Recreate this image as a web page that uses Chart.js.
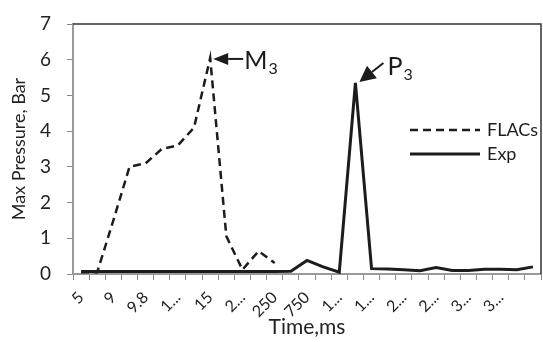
<!DOCTYPE html>
<html>
<head>
<meta charset="utf-8">
<script src="https://cdn.jsdelivr.net/npm/chart.js@4.4.0/dist/chart.umd.min.js"></script>
<style>
  html, body { margin:0; padding:0; background:#fff; }
  #wrap { width:543px; height:342px; }
</style>
</head>
<body>
<div id="wrap"><canvas id="chart"></canvas></div>
<script>
// time categories (only every second one is labelled on the axis)
const timeLabels = ['5','','9','','9.8','','1...','','15','','2...','','250','','750','',
                    '1...','','1...','','2...','','2...','','3...','','3...','',''];
const flacsValues = [0.05,0.05,1.5,3.0,3.1,3.5,3.6,4.1,6.05,1.06,0.12,0.64,0.31,
                     null,null,null,null,null,null,null,null,null,null,null,null,null,null,null,null];
const expValues = [0.07,0.07,0.07,0.07,0.07,0.07,0.07,0.07,0.07,0.07,0.07,0.07,0.07,
                   0.08,0.38,0.2,0.05,5.35,0.15,0.14,0.12,0.09,0.18,0.1,0.1,0.13,0.13,0.12,0.2];
const pressureTicks = [0,1,2,3,4,5,6,7];

const FONT = 'Lato';
const ink = '#1c1c1c';

// frame + legend + M3/P3 arrows
const extras = {
    id:'extras',
    afterDraw(chart){
        const ctx = chart.ctx;
        const a = chart.chartArea;
        const xs = chart.scales.x, ys = chart.scales.y;
        ctx.save();

        // top and right border
        ctx.strokeStyle = '#333';
        ctx.lineWidth = 1.5;
        ctx.beginPath();
        ctx.moveTo(a.left, a.top);
        ctx.lineTo(a.right, a.top);
        ctx.lineTo(a.right, a.bottom);
        ctx.stroke();

        // legend
        let ly = a.top + 106;
        chart.data.datasets.forEach(ds=>{
            ctx.strokeStyle = ds.borderColor;
            ctx.lineWidth = ds.borderWidth;
            ctx.setLineDash(ds.borderDash || []);
            ctx.beginPath();
            ctx.moveTo(a.right - 131, ly);
            ctx.lineTo(a.right - 61, ly);
            ctx.stroke();
            ctx.setLineDash([]);
            ctx.fillStyle = ink;
            ctx.font = '18px ' + FONT;
            ctx.textBaseline = 'middle';
            ctx.textAlign = 'left';
            ctx.fillText(ds.label, a.right - 54, ly);
            ly += 24;
        });

        // arrow helper
        function arrow(tx, ty, fx, fy, head, half){
            const ang = Math.atan2(fy - ty, fx - tx);
            const bx = tx + Math.cos(ang) * head, by = ty + Math.sin(ang) * head;
            ctx.strokeStyle = ink;
            ctx.lineWidth = 2;
            ctx.beginPath();
            ctx.moveTo(bx, by);
            ctx.lineTo(fx, fy);
            ctx.stroke();
            ctx.fillStyle = ink;
            ctx.beginPath();
            ctx.moveTo(tx, ty);
            ctx.lineTo(bx - Math.sin(ang) * half, by + Math.cos(ang) * half);
            ctx.lineTo(bx + Math.sin(ang) * half, by - Math.cos(ang) * half);
            ctx.closePath();
            ctx.fill();
        }
        function label(main, sub, x, y){
            ctx.fillStyle = ink;
            ctx.textAlign = 'left';
            ctx.textBaseline = 'alphabetic';
            ctx.font = '25px ' + FONT;
            ctx.fillText(main, x, y);
            const w = ctx.measureText(main).width;
            ctx.font = '16px ' + FONT;
            ctx.fillText(sub, x + w + 1, y + 5);
        }

        // M3 at FLACs peak
        const mi = flacsValues.indexOf(Math.max(...flacsValues.filter(v=>v!==null)));
        const mx = xs.getPixelForValue(mi), my = ys.getPixelForValue(flacsValues[mi]);
        arrow(mx + 3, my + 1, mx + 33, my + 1, 15, 6);
        label('M', '3', mx + 34, my + 11);

        // P3 at Exp peak
        const pi = expValues.indexOf(Math.max(...expValues));
        const px = xs.getPixelForValue(pi), py = ys.getPixelForValue(expValues[pi]);
        arrow(px + 4, py - 1, px + 28, py - 20, 16, 8);
        label('P', '3', px + 32, py - 8);

        ctx.restore();
    }
};

new Chart(document.getElementById('chart'), {
    type:'line',
    data:{
        labels: timeLabels,
        datasets:[
            {
                label:'FLACs',
                data: flacsValues,
                borderColor: ink,
                borderWidth: 2.5,
                borderDash:[8,5],
                pointRadius:0,
                tension:0,
                fill:false
            },
            {
                label:'Exp',
                data: expValues,
                borderColor: ink,
                borderWidth: 3,
                pointRadius:0,
                tension:0,
                fill:false
            }
        ]
    },
    options:{
        responsive:true,
        maintainAspectRatio:false,
        animation:false,
        layout:{ padding:{ top:24, right:2, left:0, bottom:0 } },
        plugins:{
            legend:{ display:false },
            tooltip:{ enabled:false }
        },
        scales:{
            x:{
                type:'category',
                offset:true,
                grid:{ display:true, drawOnChartArea:false, drawTicks:true, tickLength:6, offset:true, color:'#888' },
                border:{ display:true, color:'#999', width:2 },
                ticks:{ autoSkip:false, maxRotation:45, minRotation:45, padding:8, color:'#222', font:{ family:FONT, size:16 } },
                title:{ display:true, text:'Time,ms', color:'#222', font:{ family:FONT, size:21 }, padding:{ top:0, bottom:2 } },
                afterFit(s){ s.height = 68; s.paddingLeft = 0; s.paddingRight = 0; }
            },
            y:{
                min:0,
                max:7,
                afterBuildTicks(s){ s.ticks = pressureTicks.map(v=>({ value:v })); },
                grid:{ display:true, drawOnChartArea:false, drawTicks:true, tickLength:6, color:'#888' },
                border:{ display:true, color:'#999', width:2 },
                ticks:{ padding:16, color:'#222', font:{ family:FONT, size:19 } },
                title:{ display:true, text:'Max Pressure, Bar', color:'#222', font:{ family:FONT, size:18 }, padding:{ top:8, bottom:0 } },
                afterFit(s){ s.width = 73; s.paddingTop = 0; s.paddingBottom = 0; }
            }
        }
    },
    plugins:[extras]
});
</script>
</body>
</html>
